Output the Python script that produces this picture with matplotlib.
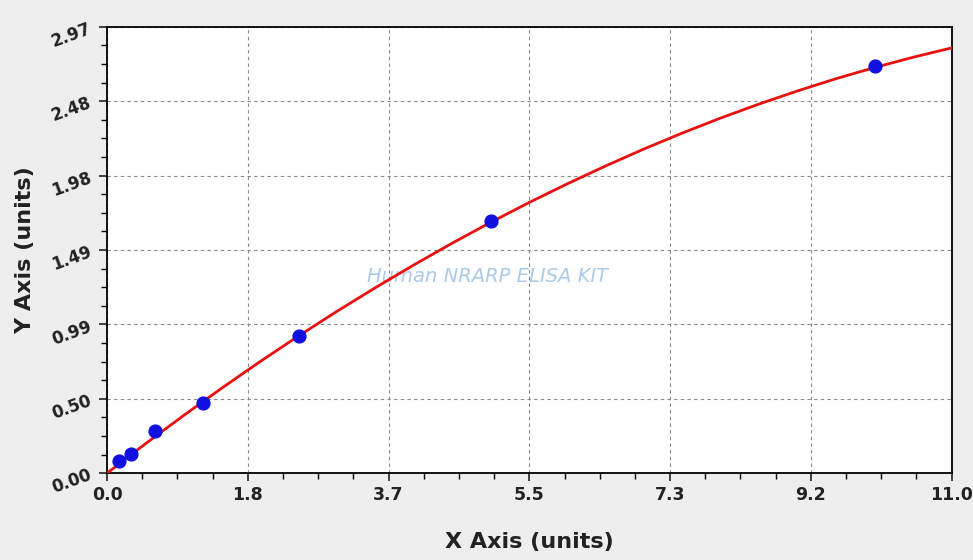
import numpy as np
import matplotlib.pyplot as plt
from matplotlib.ticker import FixedLocator, AutoMinorLocator

# standard points
conc = [0.156, 0.3125, 0.625, 1.25, 2.5, 5.0, 10.0]
od = [0.08, 0.127, 0.28, 0.467, 0.915, 1.676, 2.71]

# fitted curve
curve_x = [0, 0.5, 1, 1.5, 2, 2.5, 3, 3.5, 4, 4.5, 5, 5.5, 6, 6.5, 7, 7.5,
           8, 8.5, 9, 9.5, 10, 10.5, 11]
curve_y = [0, 0.196, 0.385, 0.568, 0.745, 0.915, 1.079, 1.236, 1.387, 1.532,
           1.67, 1.802, 1.927, 2.046, 2.159, 2.265, 2.365, 2.458, 2.545, 2.626,
           2.70, 2.768, 2.83]

xticks = [0, 11/6, 22/6, 33/6, 44/6, 55/6, 11]
xlabels = ['0.0', '1.8', '3.7', '5.5', '7.3', '9.2', '11.0']
yticks = [0, 0.495, 0.99, 1.485, 1.98, 2.475, 2.97]
ylabels = ['0.00', '0.50', '0.99', '1.49', '1.98', '2.48', '2.97']

fig = plt.figure(figsize=(9.73, 5.6), dpi=100, facecolor='#eeeeee')
ax = fig.add_axes([0.110, 0.155, 0.868, 0.797])

ax.plot(curve_x, curve_y, color='#e8110f', lw=2, zorder=3)
ax.scatter(conc, od, s=85, color='#1010e0', zorder=4)

ax.set_xlim(0, 11)
ax.set_ylim(0, 2.97)
ax.set_xticks(xticks)
ax.set_xticklabels(xlabels, fontsize=12.5, fontweight='bold')
ax.set_yticks(yticks)
ax.set_yticklabels(ylabels, fontsize=12, fontweight='bold', rotation=20)
ax.xaxis.set_minor_locator(AutoMinorLocator(4))
ax.yaxis.set_minor_locator(AutoMinorLocator(4))
ax.tick_params(which='major', length=6, width=1.2, direction='out', colors='#222222')
ax.tick_params(which='minor', length=4, width=1, direction='out')
ax.grid(True, which='major', color='#888888', ls=(0, (3, 3)), lw=0.8)
for s in ax.spines.values():
    s.set_linewidth(1.3)

ax.set_xlabel('X Axis (units)', fontsize=16, fontweight='bold', labelpad=20, color='#222222')
ax.set_ylabel('Y Axis (units)', fontsize=16, fontweight='bold', labelpad=10, color='#222222')

ax.text(0.45, 0.44, 'Human NRARP ELISA KIT', transform=ax.transAxes,
        ha='center', va='center', fontsize=14, style='italic',
        color='#a9cbe8', zorder=2)

plt.savefig('out.png', dpi=100, facecolor=fig.get_facecolor())
